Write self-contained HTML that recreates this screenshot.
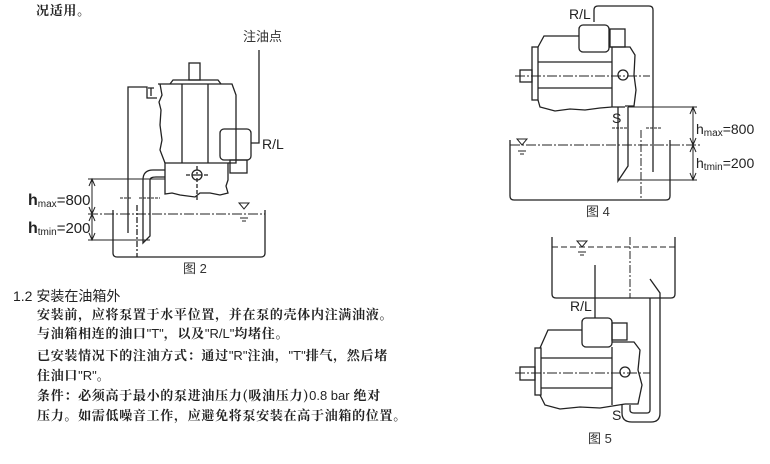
<!DOCTYPE html>
<html><head><meta charset="utf-8"><style>
html,body{margin:0;padding:0;background:#fff;}
body{width:770px;height:464px;position:relative;overflow:hidden;font-family:"Liberation Sans","Noto Sans CJK SC",sans-serif;color:#222;}
.t{position:absolute;white-space:nowrap;font-size:13px;line-height:16px;}
.c{font-family:"Noto Serif CJK SC","Liberation Serif",serif;font-weight:bold;letter-spacing:0.7px;}
svg{position:absolute;left:0;top:0;}
</style></head><body>
<div class="t c" style="left:36px;top:2px;">况适用。</div>
<svg width="770" height="464" viewBox="0 0 770 464" fill="none" stroke="#222" stroke-width="1.3" font-family="Liberation Sans, Noto Sans CJK SC, sans-serif">
<!-- FIG 2 -->
<text x="243" y="41" fill="#333" stroke="none" font-size="13">注油点</text>
<path d="M259 50 V143 H251"/>
<text x="262" y="149" fill="#222" stroke="none" font-size="14">R/L</text>
<rect x="189" y="63" width="11" height="17"/>
<path d="M170 84 L173 80 H218 L221 84"/>
<path d="M158 84 H232 L236 95 V163 H228"/>
<path d="M160 84 L162 95 L159 102 L161 110 L160 125 L162 140 L160 150 L165 163"/>
<path d="M182 84 V163 M208 84 V163"/>
<rect x="220" y="129" width="31" height="31" rx="4"/>
<rect x="230" y="160" width="17" height="13"/>
<path d="M165 163 H228 V180 L226 186 L228 193 L220 195 L210 193 H200 L195 197 L180 195 L172 193 L165 194 Z"/>
<circle cx="197" cy="175" r="5"/>
<path d="M186 175 H208 M197 166 V200" stroke-dasharray="4 2"/>
<path d="M128 233 V87 H147 V98 H157"/>
<path d="M151 88 V96 M148 88 H154"/>
<path d="M165 170 H153 Q143 170 143 180 V243 L150 236 V180 Q150 177 156 177 H165"/>
<path d="M137 205 V257" stroke-dasharray="6 2 2 2"/>
<path d="M113 210 V253 Q113 257 117 257 H261 Q265 257 265 253 V210"/>
<path d="M88 214 H265" stroke-dasharray="10 2 2 2" stroke-width="1"/>
<path d="M239 203 H249 L244 209 Z" stroke-width="1"/>
<path d="M240 218 H248 M242 221 H246" stroke-width="1"/>
<path d="M120 198 H132 M139 198 H160" stroke-width="1" stroke-dasharray="3 1"/>
<path d="M88 179 H165 M88 240 H150" stroke-width="1"/>
<path d="M92 179 V240" stroke-width="1"/>
<path d="M89 186 L92 179 L95 186 M89 207 L92 214 L95 207 M89 221 L92 214 L95 221 M89 233 L92 240 L95 233" stroke-width="1"/>
<text x="28" y="205" fill="#222" stroke="none" font-size="15"><tspan font-weight="bold" font-size="16">h</tspan><tspan font-size="10" dy="2">max</tspan><tspan dy="-2">=800</tspan></text>
<text x="28" y="233" fill="#222" stroke="none" font-size="15"><tspan font-weight="bold" font-size="16">h</tspan><tspan font-size="10" dy="2">tmin</tspan><tspan dy="-2">=200</tspan></text>
<text x="183" y="273" fill="#333" stroke="none" font-size="13">图 2</text>

<!-- FIG 4 -->
<text x="569" y="19" fill="#222" stroke="none" font-size="14">R/L</text>
<path d="M594 22 V10 Q594 6 598 6 H649 Q653 6 653 10 V172"/>
<rect x="579" y="25" width="30" height="27" rx="4"/>
<rect x="610" y="29" width="15" height="18"/>
<path d="M538 47 L544 36 H579 M609 47 H630 L635 55 L634 75 L636 90 L634 106 H625"/>
<path d="M538 100 L540 107 L555 111 L570 109 L585 110 L600 108 L612 107 H625"/>
<rect x="532" y="47" width="6" height="53"/>
<rect x="520" y="70" width="12" height="12"/>
<path d="M538 62 H612 M538 88 H612 M612 47 V107"/>
<path d="M515 76 H650" stroke-dasharray="10 2 2 2" stroke-width="1"/>
<circle cx="623" cy="75" r="5"/>
<path d="M618 107 V181 L628 166 V107"/>
<path d="M510 140 V196 Q510 200 514 200 H666 Q670 200 670 196 V140"/>
<path d="M510 145 H700" stroke-dasharray="10 2 2 2" stroke-width="1"/>
<path d="M641 130 V200" stroke-dasharray="8 2 2 2" stroke-width="1"/>
<path d="M517 139 H527 L522 145 Z" stroke-width="1"/>
<path d="M518 151 H526 M520 154 H524" stroke-width="1"/>
<path d="M612 128 H628 M646 128 H662" stroke-width="1" stroke-dasharray="3 1"/>
<path d="M628 107 H697 M618 180 H697" stroke-width="1"/>
<path d="M693 107 V180" stroke-width="1"/>
<path d="M690 114 L693 107 L696 114 M690 138 L693 145 L696 138 M690 152 L693 145 L696 152 M690 173 L693 180 L696 173" stroke-width="1"/>
<text x="612" y="123" fill="#222" stroke="none" font-size="14">S</text>
<text x="696" y="134" fill="#222" stroke="none" font-size="14">h<tspan font-size="10" dy="2">max</tspan><tspan dy="-2">=800</tspan></text>
<text x="696" y="168" fill="#222" stroke="none" font-size="14">h<tspan font-size="10" dy="2">tmin</tspan><tspan dy="-2">=200</tspan></text>
<text x="586" y="216" fill="#333" stroke="none" font-size="13">图 4</text>

<!-- FIG 5 -->
<path d="M552 237 V294 Q552 298 556 298 H671 Q675 298 675 294 V237"/>
<path d="M552 247 H675" stroke-dasharray="6 3" stroke-width="1"/>
<path d="M630 237 V298" stroke-dasharray="8 2 2 2" stroke-width="1"/>
<path d="M577 241 H587 L582 247 Z" stroke-width="1"/>
<path d="M578 252 H586 M580 255 H584" stroke-width="1"/>
<path d="M595 265 V318"/>
<text x="570" y="311" fill="#222" stroke="none" font-size="14">R/L</text>
<rect x="582" y="318" width="30" height="29" rx="4"/>
<rect x="612" y="323" width="15" height="17"/>
<path d="M540 348 L548 330 H582 M612 342 H634 L640 350 L638 370 L642 385 L638 404 H625"/>
<path d="M540 395 L545 405 L560 409 L580 407 L600 408 L625 404"/>
<rect x="535" y="348" width="6" height="47"/>
<rect x="520" y="367" width="15" height="13"/>
<path d="M541 358 H612 M541 388 H612 M612 347 V405"/>
<path d="M515 373 H650" stroke-dasharray="10 2 2 2" stroke-width="1"/>
<circle cx="625" cy="372" r="5"/>
<path d="M650 279 L660 293 V413 Q660 422 651 422 H632 Q622 422 622 413 V405 M630 405 V410 Q630 413 634 413 H647 Q650 413 650 410 V298"/>
<text x="612" y="420" fill="#222" stroke="none" font-size="14">S</text>
<text x="588" y="443" fill="#333" stroke="none" font-size="13">图 5</text>
</svg>
<div class="t" style="left:13px;top:288px;font-size:14px;">1.2 安装在油箱外</div>
<div class="t c" style="left:37px;top:306px;">安装前，应将泵置于水平位置，并在泵的壳体内注满油液。</div>
<div class="t c" style="left:37px;top:325px;">与油箱相连的油口<span style="font-family:'Liberation Sans',sans-serif;font-weight:normal;letter-spacing:0;">"T"</span>，以及<span style="font-family:'Liberation Sans',sans-serif;font-weight:normal;letter-spacing:0;">"R/L"</span>均堵住。</div>
<div class="t c" style="left:37px;top:347px;">已安装情况下的注油方式：通过<span style="font-family:'Liberation Sans',sans-serif;font-weight:normal;letter-spacing:0;">"R"</span>注油，<span style="font-family:'Liberation Sans',sans-serif;font-weight:normal;letter-spacing:0;">"T"</span>排气，然后堵</div>
<div class="t c" style="left:37px;top:367px;">住油口<span style="font-family:'Liberation Sans',sans-serif;font-weight:normal;letter-spacing:0;">"R"</span>。</div>
<div class="t c" style="left:37px;top:387px;">条件：必须高于最小的泵进油压力(吸油压力)<span style="font-family:'Liberation Sans',sans-serif;font-weight:normal;letter-spacing:0;">0.8 bar</span> 绝对</div>
<div class="t c" style="left:37px;top:407px;">压力。如需低噪音工作，应避免将泵安装在高于油箱的位置。</div>
</body></html>
